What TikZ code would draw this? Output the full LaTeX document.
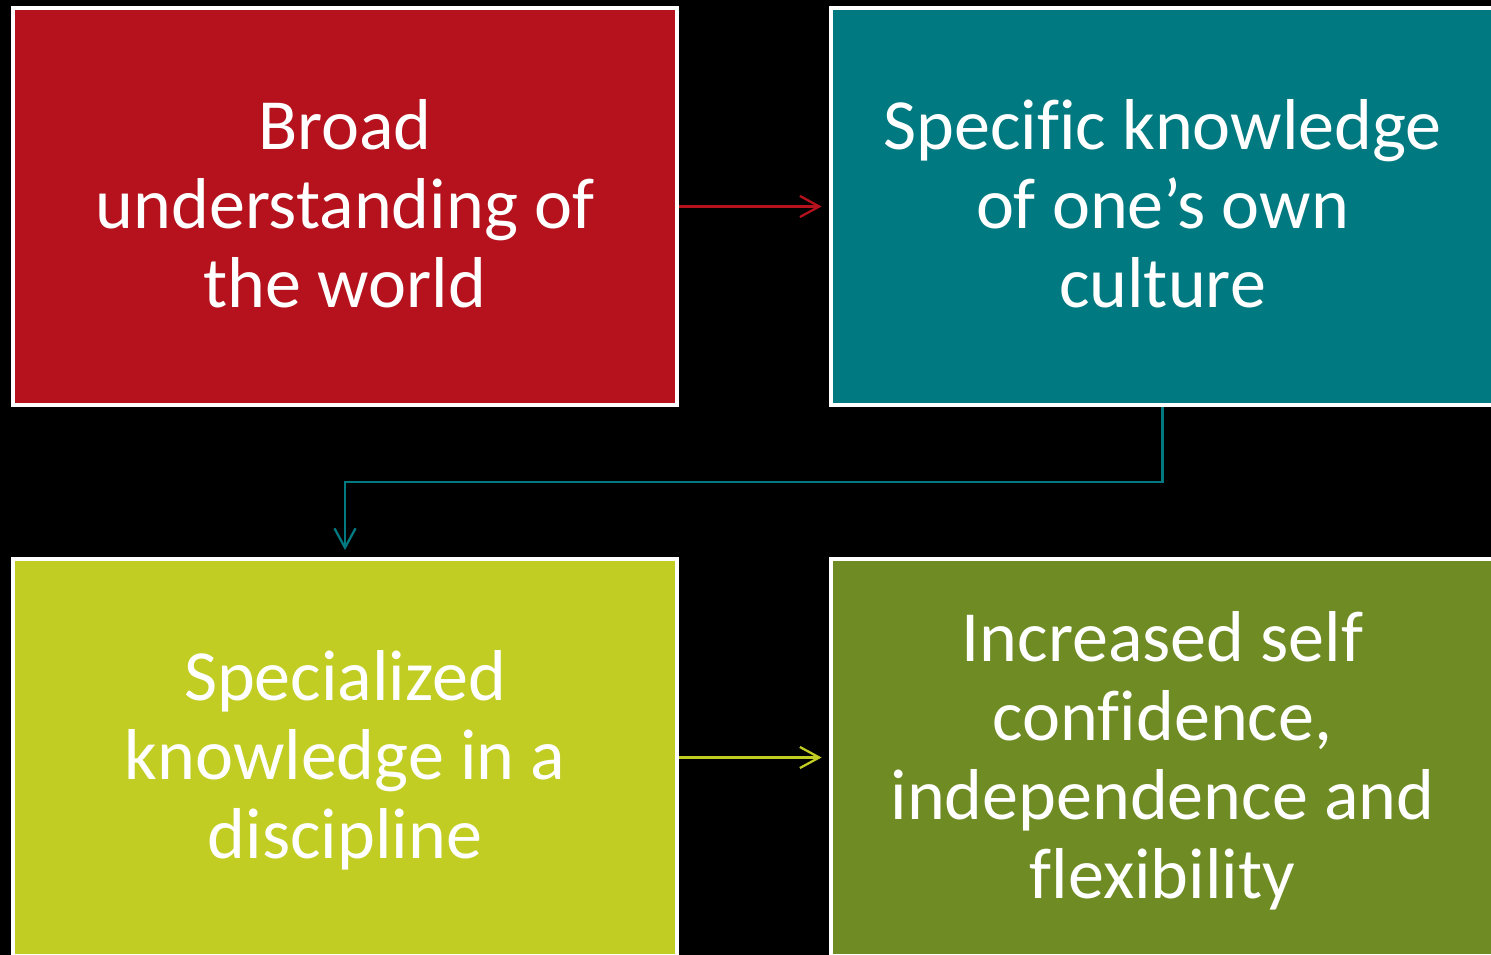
\documentclass[tikz,border=0pt]{standalone}
\usepackage{fontspec}
\setmainfont{Carlito}[Ligatures=NoCommon]
\usetikzlibrary{arrows.meta}
\definecolor{boxred}{RGB}{181,18,29}
\definecolor{boxteal}{RGB}{0,122,128}
\definecolor{boxlime}{RGB}{194,205,35}
\definecolor{boxolive}{RGB}{111,139,36}
\newcommand\boxstrut{\rule[-8pt]{0pt}{41.5pt}}

\begin{document}
\begin{tikzpicture}[x=0.02cm,y=-0.02cm,>={Straight Barb[length=11pt,width=12pt]},
		box/.style={draw=white,line width=2.2pt,minimum width=13.28cm,minimum height=7.94cm,text=white,align=center,font=\fontsize{41}{45}\selectfont,
			execute at end node=\boxstrut},
		link/.style={->,line width=1.3pt,shorten >=4pt}]
			\fill[black] (0,0) rectangle (1491,955);
			\clip (0,0) rectangle (1491,955);

			\node[box,fill=boxred] (world) at (345,206.5) {\boxstrut Broad\\understanding of\\the world};
			\node[box,fill=boxteal] (culture) at (1162.5,206.5) {\boxstrut Specific knowledge\\of one’s own\\culture};
			\node[box,fill=boxlime] (discipline) at (345,757.5) {\boxstrut Specialized\\knowledge in a\\discipline};
			\node[box,fill=boxolive] (confidence) at (1162.5,757.5) {\boxstrut Increased self\\confidence,\\independence and\\flexibility};

			\coordinate (elbow) at (1162.5,482);
			\draw[link,boxred] (world) -- (culture);
			\draw[link,boxteal] (culture.south) -- (elbow) -| (discipline.north);
			\draw[link,boxlime] (discipline) -- (confidence);
		\end{tikzpicture}
\end{document}
